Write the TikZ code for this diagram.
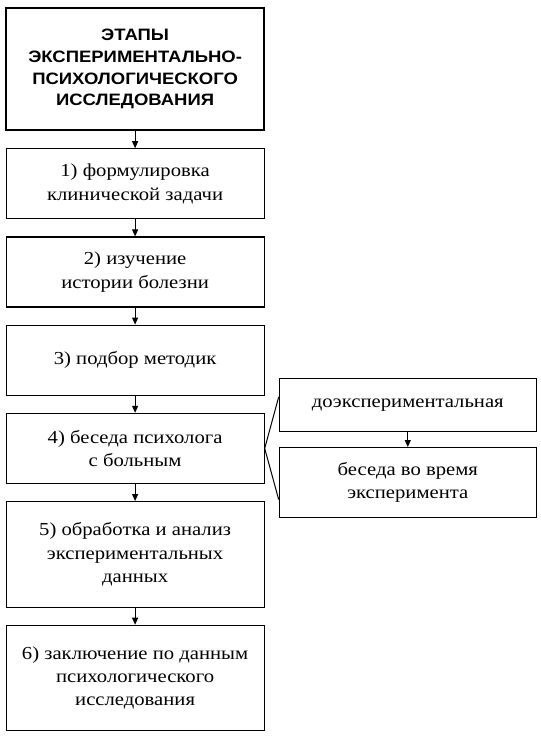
\documentclass[tikz,border=0pt]{standalone}
\usepackage{fontspec}
\setmainfont{Liberation Serif}[FakeStretch=1.13]
\newfontfamily\titlefont{Liberation Sans}[FakeStretch=1.12]
\usetikzlibrary{positioning,arrows.meta}

\begin{document}
\begin{tikzpicture}[node distance=17pt and 14pt, auto,
    stagebox/.style={rectangle, draw, line width=1.2pt, align=center, minimum width=258pt, minimum height=70pt, font=\fontsize{18.3}{23.3}\selectfont},
    titlebox/.style={rectangle, draw, line width=2.2pt, align=center, minimum width=258pt, minimum height=122pt, font=\titlefont\bfseries\fontsize{16.5}{21.7}\selectfont},
    subbox/.style={stagebox, minimum width=257pt},
    flow/.style={-{Triangle[length=7pt, width=6pt]}, line width=1pt}]
            \useasboundingbox (0,0) rectangle (541pt,-737pt);
            % Nodes
            \node[titlebox, anchor=north west] (stage0) at (5pt,-7pt) {ЭТАПЫ\\ЭКСПЕРИМЕНТАЛЬНО-\\ПСИХОЛОГИЧЕСКОГО\\ИССЛЕДОВАНИЯ};

            \node[stagebox, below=of stage0] (stage1) {1) формулировка\\клинической задачи};

            \node[stagebox, below=of stage1] (stage2) {2) изучение\\истории болезни};

            \node[stagebox, below=of stage2] (stage3) {3) подбор методик};

            \node[stagebox, below=of stage3] (stage4) {4) беседа психолога\\с больным};

            \node[stagebox, minimum height=105.5pt, below=of stage4] (stage5) {5) обработка и анализ\\экспериментальных\\данных};

            \node[stagebox, minimum height=105.5pt, below=of stage5] (stage6) {6) заключение по данным\\психологического\\исследования};

            \node[subbox, minimum height=53pt, anchor=north west] (talk1) at ([xshift=14pt, yshift=35pt]stage4.north east) {доэкспериментальная};

            \node[subbox, below=15pt of talk1] (talk2) {беседа во время\\эксперимента};

            \draw[flow] (stage0) -- (stage1);
            \draw[flow] (stage1) -- (stage2);
            \draw[flow] (stage2) -- (stage3);
            \draw[flow] (stage3) -- (stage4);
            \draw[flow] (stage4) -- (stage5);
            \draw[flow] (stage5) -- (stage6);
            \draw[flow] (talk1) -- (talk2);
            \draw[line width=1pt] ([yshift=8pt]talk1.west) -- (stage4.east) -- ([yshift=-17pt]talk2.west);
        \end{tikzpicture}
\end{document}
